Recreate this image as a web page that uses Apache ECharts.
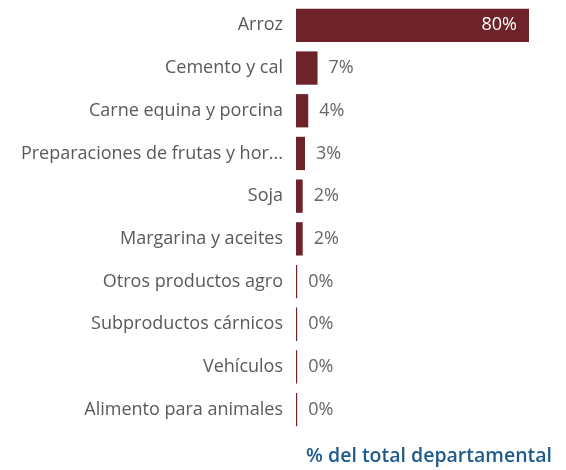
<!DOCTYPE html>
<html>
<head>
<meta charset="utf-8">
<script src="https://cdn.jsdelivr.net/npm/echarts@6/dist/echarts.min.js"></script>
<style>
  html, body { margin: 0; padding: 0; background: #ffffff; }
  #chart { width: 566px; height: 470px; }
</style>
</head>
<body>
<div id="chart"></div>
<script>
// Products, top to bottom
const categories = [
  'Arroz',
  'Cemento y cal',
  'Carne equina y porcina',
  'Preparaciones de frutas y hortalizas',
  'Soja',
  'Margarina y aceites',
  'Otros productos agro',
  'Subproductos cárnicos',
  'Vehículos',
  'Alimento para animales'
];

// Share of the departmental total (%)
const shares = [80, 7.4, 4.2, 3.1, 2.3, 2.3, 0.4, 0.4, 0.4, 0.4];

const axisTitle = '% del total departamental';

const chart = echarts.init(document.getElementById('chart'), null, { renderer: 'canvas' });

const fontFamily = '"Open Sans", "Noto Sans", sans-serif';

chart.setOption({
  animation: false,
  backgroundColor: '#ffffff',
  grid: { left: 296, right: 37, top: 4, bottom: 39, containLabel: false },
  title: {
    text: axisTitle,
    right: 9,
    bottom: -1,
    textStyle: { color: '#1f5a8c', fontSize: 19.5, fontWeight: 600, fontFamily: fontFamily }
  },
  xAxis: {
    type: 'value',
    min: 0,
    max: 80,
    show: false
  },
  yAxis: {
    type: 'category',
    data: categories,
    inverse: true,
    axisLine: { show: false },
    axisTick: { show: false },
    axisLabel: {
      color: '#595959',
      fontSize: 18,
      fontFamily: fontFamily,
      margin: 13,
      width: 268,
      overflow: 'truncate',
      ellipsis: '...'
    }
  },
  series: [{
    type: 'bar',
    data: shares.map((v, i) => ({
      value: v,
      label: i === 0
        ? { position: 'insideRight', color: '#ffffff', distance: 12 }
        : { position: 'right', color: '#666666', distance: 11 }
    })),
    barCategoryGap: '22%',
    itemStyle: { color: '#6d2329' },
    label: {
      show: true,
      fontSize: 18,
      fontFamily: fontFamily,
      formatter: p => Math.round(p.value) + '%'
    }
  }]
});
</script>
</body>
</html>
